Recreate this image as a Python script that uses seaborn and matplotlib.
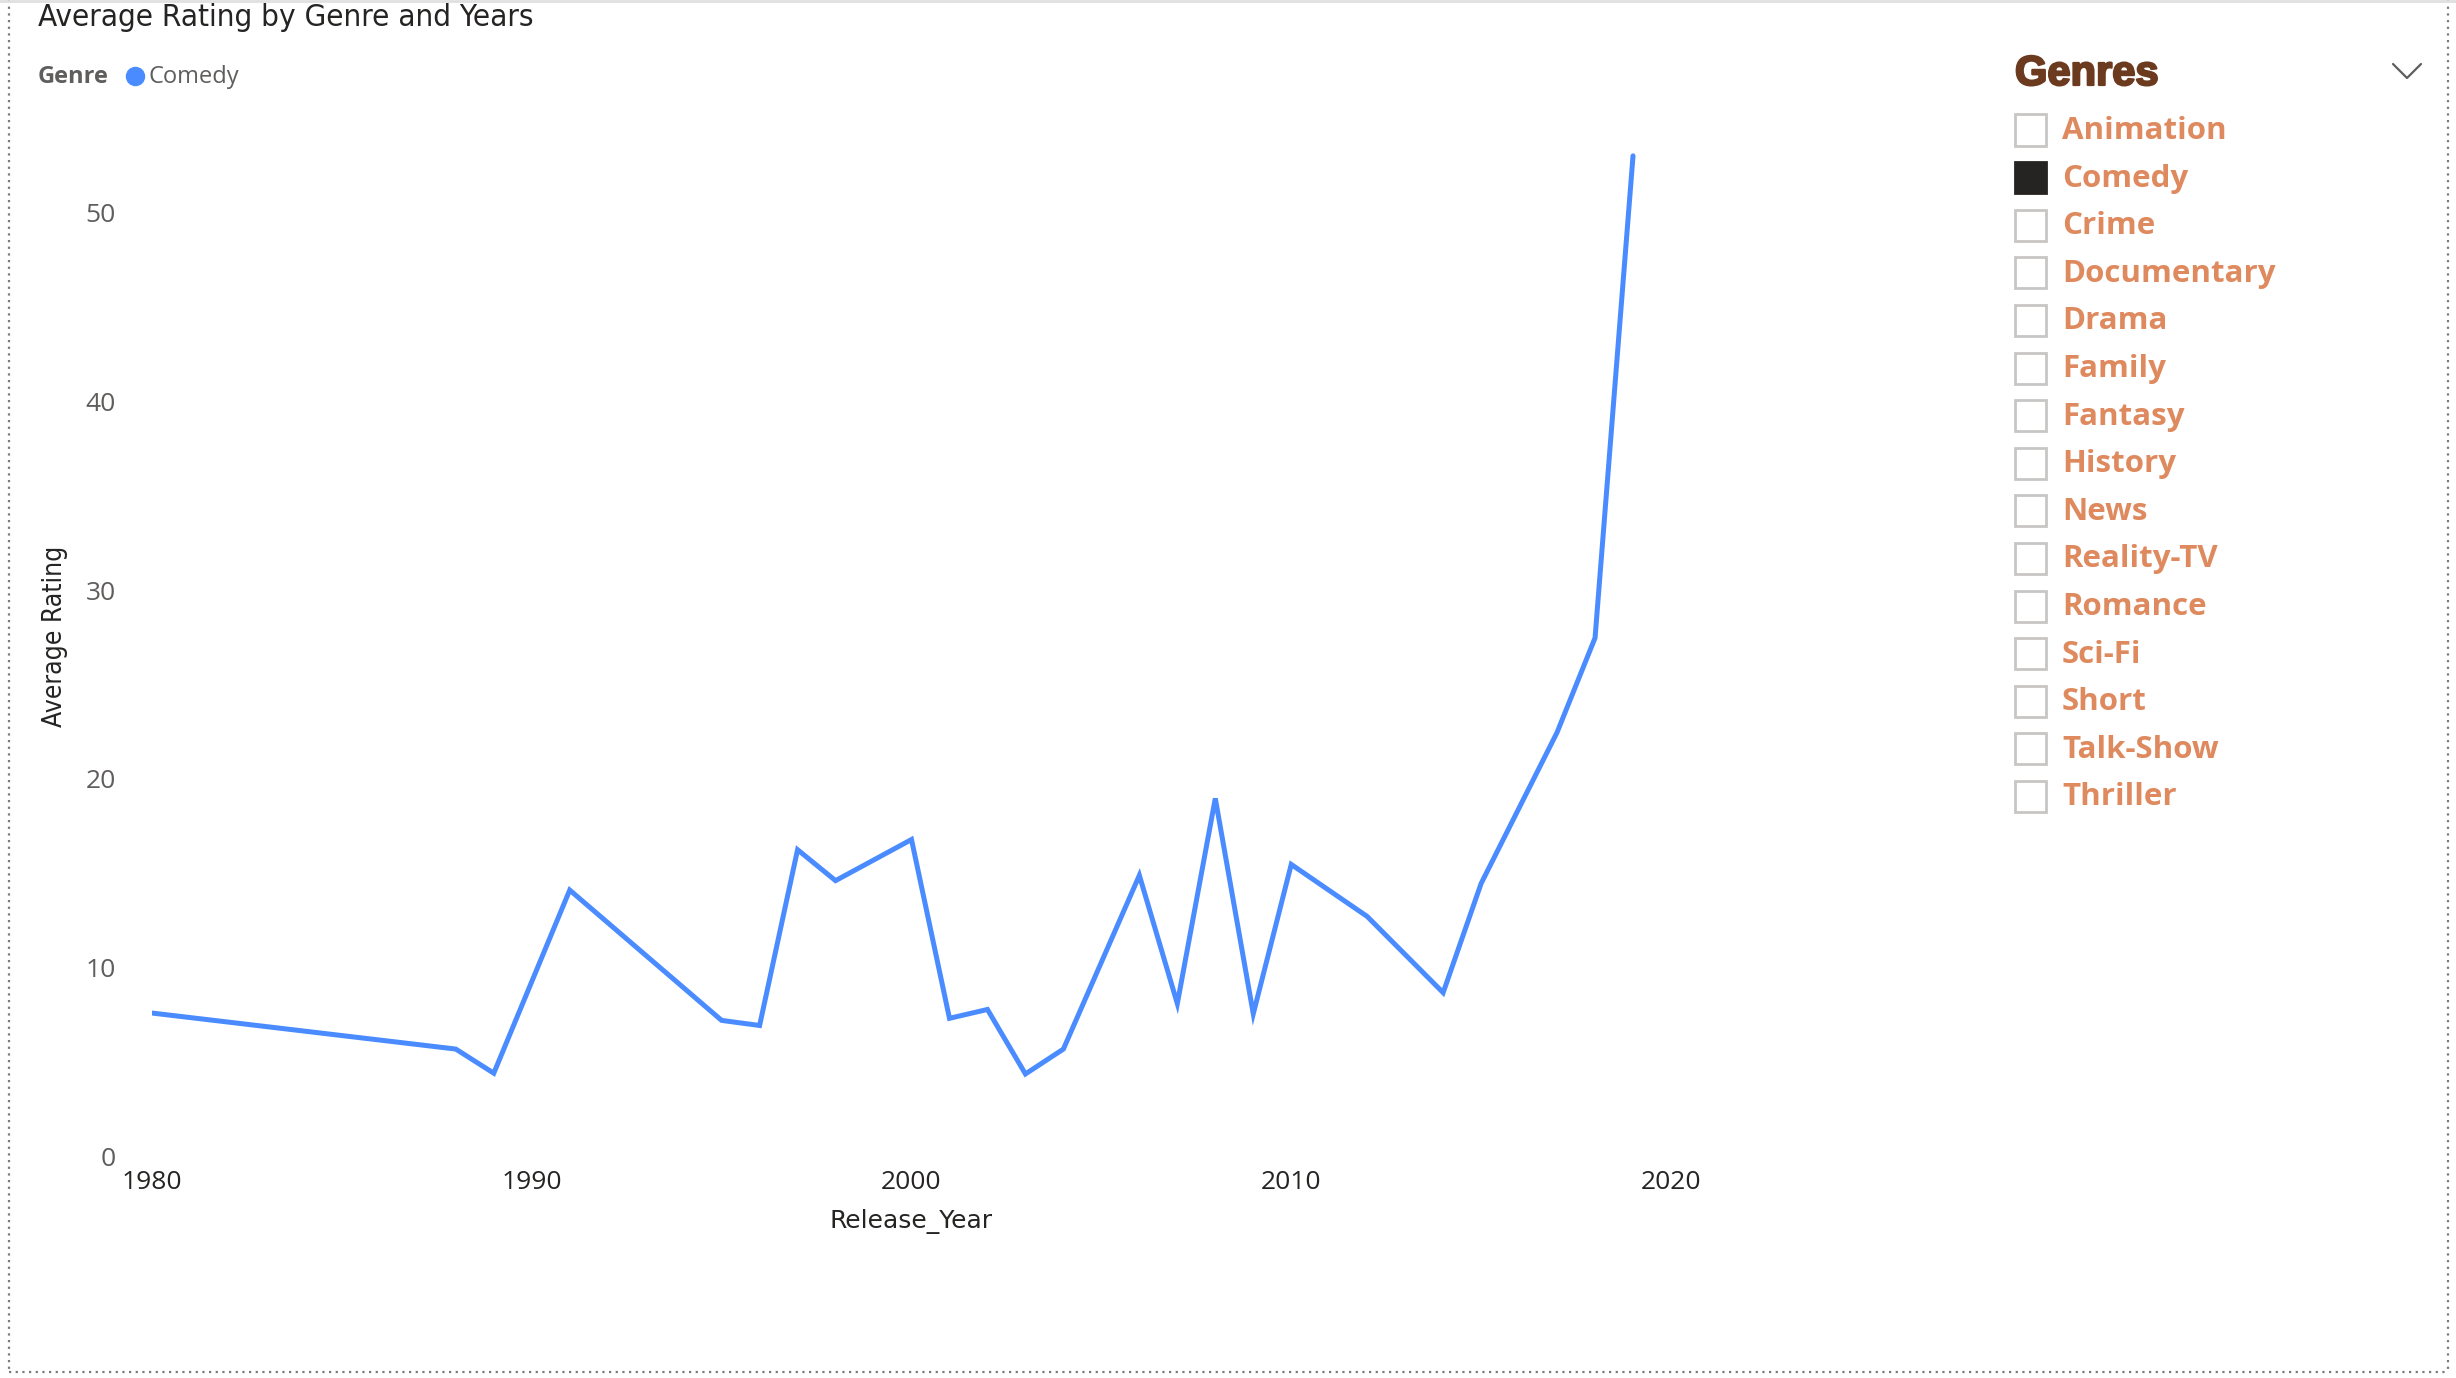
import matplotlib
matplotlib.use("Agg")
import matplotlib.patheffects as pe
import matplotlib.pyplot as plt
import pandas as pd
import seaborn as sns
from matplotlib.lines import Line2D
from matplotlib.patches import Rectangle

# Data
years = [1980, 1988, 1989, 1991, 1995, 1996, 1997, 1998, 2000, 2001, 2002, 2003,
         2004, 2006, 2007, 2008, 2009, 2010, 2012, 2014, 2015, 2017, 2018, 2019]
ratings = [7.58, 5.67, 4.39, 14.1, 7.19, 6.92, 16.24, 14.6, 16.78, 7.3, 7.77, 4.35,
           5.67, 14.88, 8.08, 18.96, 7.54, 15.46, 12.7, 8.66, 14.45, 22.46, 27.47, 53.03]
genres = ["Animation", "Comedy", "Crime", "Documentary", "Drama", "Family", "Fantasy",
          "History", "News", "Reality-TV", "Romance", "Sci-Fi", "Short", "Talk-Show",
          "Thriller"]
selected = ["Comedy"]
x_ticks = [1980, 1990, 2000, 2010, 2020]
y_ticks = [0, 10, 20, 30, 40, 50]

W, H = 2456, 1378
LINE = "#4A8CFF"
ORANGE = "#DE8A5E"

sns.set_theme(style="white")
plt.rcParams["font.family"] = ["Open Sans", "DejaVu Sans"]

fig = plt.figure(figsize=(W / 100, H / 100), dpi=100)


def fx(x):
    return x / W


def fy(y):
    return 1 - y / H


# main line chart, placed so 1980 -> x=152px, 0 -> y=1156px
x0, x1 = 1980, 2021
y0, y1 = 0, 55
px_per_year = (1671 - 152) / 40
px_per_unit = (1156 - 213) / 50
left = 152
right = left + (x1 - x0) * px_per_year
bottom = 1156
top = bottom - (y1 - y0) * px_per_unit
ax = fig.add_axes([fx(left), fy(bottom), (right - left) / W, (bottom - top) / H])

df = pd.DataFrame({"Release_Year": years, "Average Rating": ratings})
sns.lineplot(data=df, x="Release_Year", y="Average Rating", ax=ax,
             color=LINE, linewidth=3.6, solid_joinstyle="miter")
ax.set_xlim(x0, x1)
ax.set_ylim(y0, y1)
ax.set_xticks(x_ticks)
ax.set_yticks(y_ticks)
for s in ax.spines.values():
    s.set_visible(False)
ax.grid(False)
ax.tick_params(axis="y", length=0, pad=26, labelsize=19, labelcolor="#605E5C")
ax.tick_params(axis="x", length=0, pad=10, labelsize=19, labelcolor="#252423")
ax.set_xlabel("")
ax.set_ylabel("")
fig.text(fx(911), fy(1221), "Release_Year", ha="center", va="center",
         fontsize=18, color="#252423", family=["DejaVu Sans"])
fig.text(fx(55), fy(636), "Average Rating", rotation=90, ha="center", va="center",
         fontsize=19, color="#252423", family=["DejaVu Sans"], fontstretch="condensed")

# title and legend
fig.text(fx(38), fy(17), "Average Rating by Genre and Years", ha="left", va="center",
         fontsize=22.5, color="#252423", family=["DejaVu Sans"], fontstretch="condensed")
fig.text(fx(38), fy(77), "Genre", ha="left", va="center", fontsize=17,
         fontweight="bold", color="#605E5C", fontstretch="condensed")
fig.lines.append(Line2D([fx(135)], [fy(76)], transform=fig.transFigure, marker="o",
                        markersize=13, color=LINE, linestyle="none"))
fig.text(fx(148), fy(77), "Comedy", ha="left", va="center", fontsize=17,
         color="#605E5C")

# slicer panel
fig.text(fx(2015), fy(74), "Genres", ha="left", va="center", fontsize=30,
         fontweight="heavy", color="#6B3A1F", family=["Liberation Sans", "DejaVu Sans"],
         path_effects=[pe.withStroke(linewidth=1.6, foreground="#6B3A1F")])
fig.lines.append(Line2D([fx(2393), fx(2407), fx(2421)], [fy(64), fy(78), fy(64)],
                        transform=fig.transFigure, color="#605E5C", linewidth=1.6))
box = 31
for i, g in enumerate(genres):
    cy = 130 + i * 47.6
    on = g in selected
    fig.patches.append(Rectangle((fx(2015), fy(cy + box / 2)), box / W, box / H,
                                 transform=fig.transFigure,
                                 facecolor="#252423" if on else "white",
                                 edgecolor="#252423" if on else "#C8C6C4",
                                 linewidth=2))
    fig.text(fx(2062), fy(cy + 1), g, ha="left", va="center", fontsize=22.5,
             fontweight="bold", color=ORANGE)

# dotted visual border
dots = dict(transform=fig.transFigure, color="#7A7A7A", linewidth=1.6,
            linestyle=(0, (1, 2)))
fig.lines.append(Line2D([fx(9), fx(9)], [fy(0), fy(1372)], **dots))
fig.lines.append(Line2D([fx(2448), fx(2448)], [fy(0), fy(1372)], **dots))
fig.lines.append(Line2D([fx(9), fx(2448)], [fy(1372), fy(1372)], **dots))
fig.lines.append(Line2D([fx(0), fx(2456)], [fy(1), fy(1)], transform=fig.transFigure,
                        color="#E0E0E0", linewidth=2))

fig.savefig("out.png", dpi=100, facecolor="white")
